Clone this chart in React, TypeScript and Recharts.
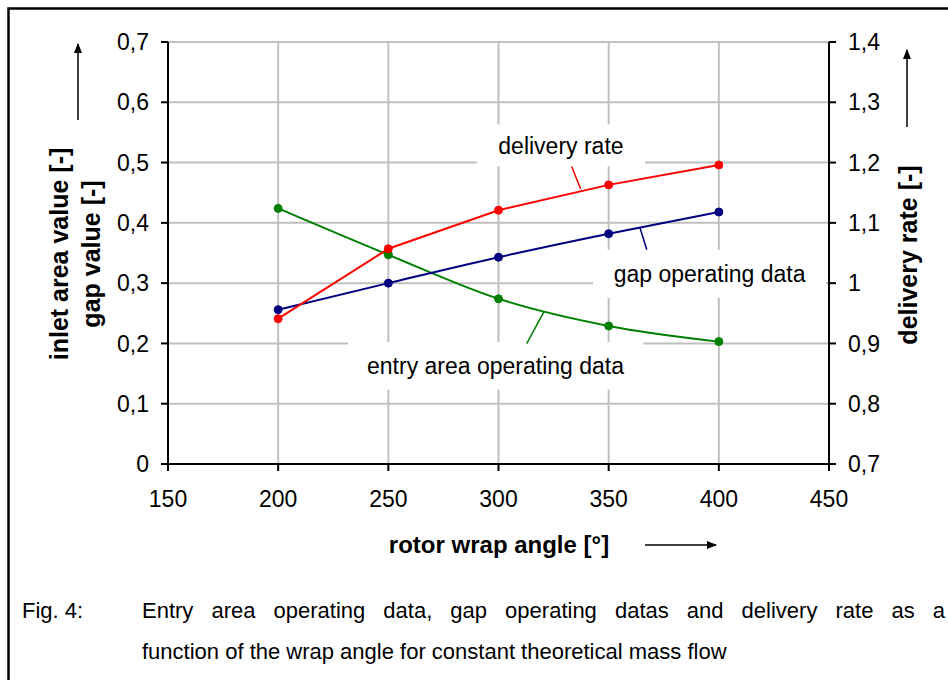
import {
  CartesianGrid,
  Line,
  LineChart,
  ReferenceArea,
  ReferenceLine,
  XAxis,
  YAxis,
} from "recharts";

// rotor wrap angle [°]
const angles = [200, 250, 300, 350, 400];
// left axis
const entryArea = [0.424, 0.347, 0.274, 0.229, 0.203];
const gapValue = [0.256, 0.3, 0.343, 0.382, 0.418];
// right axis
const deliveryRate = [0.941, 1.057, 1.121, 1.163, 1.196];

const xTicks = [150, 200, 250, 300, 350, 400, 450];
const leftTicks = [0, 0.1, 0.2, 0.3, 0.4, 0.5, 0.6, 0.7];
const rightTicks = [0.7, 0.8, 0.9, 1, 1.1, 1.2, 1.3, 1.4];

const data = angles.map((a, i) => ({
  angle: a,
  entry: entryArea[i],
  gap: gapValue[i],
  rate: deliveryRate[i],
}));

const FONT = "'Liberation Sans', Arial, sans-serif";
const fmt = (v: number) =>
  Number.isInteger(v) ? String(v) : v.toFixed(1).replace(".", ",");

const tickStyle = { fill: "#000", fontSize: 23, fontFamily: FONT };
const axisLine = { stroke: "#000", strokeWidth: 2 };

const labelStyle = (value: string) => ({
  value,
  position: "center" as const,
  fill: "#000",
  fontSize: 23,
  fontFamily: FONT,
});

export default function App() {
  return (
    <div
      style={{
        position: "absolute",
        left: 0,
        top: 0,
        width: 948,
        height: 680,
        background: "#fff",
        fontFamily: FONT,
        overflow: "hidden",
      }}
    >
      <div style={{ position: "absolute", left: 0, top: 0 }}>
        <LineChart
          width={948}
          height={560}
          data={data}
          margin={{ top: 42, right: 59, left: 108, bottom: 56 }}
        >
          <CartesianGrid yAxisId="left" stroke="#c0c0c0" strokeWidth={2} />
          <XAxis
            dataKey="angle"
            type="number"
            domain={[150, 450]}
            ticks={xTicks}
            height={40}
            tick={tickStyle}
            tickSize={7}
            tickMargin={20}
            axisLine={axisLine}
            tickLine={axisLine}
          />
          <YAxis
            yAxisId="left"
            domain={[0, 0.7]}
            ticks={leftTicks}
            width={60}
            tickFormatter={fmt}
            tick={tickStyle}
            tickSize={7}
            tickMargin={12}
            axisLine={axisLine}
            tickLine={axisLine}
          />
          <YAxis
            yAxisId="right"
            orientation="right"
            domain={[0.7, 1.4]}
            ticks={rightTicks}
            width={60}
            tickFormatter={fmt}
            tick={tickStyle}
            tickSize={7}
            tickMargin={12}
            axisLine={axisLine}
            tickLine={axisLine}
          />
          <ReferenceArea
            yAxisId="left"
            x1={290.2}
            x2={366.5}
            y1={0.494}
            y2={0.563}
            fill="#fff"
            fillOpacity={1}
            stroke="none"
            label={labelStyle("delivery rate")}
          />
          <ReferenceArea
            yAxisId="left"
            x1={342.9}
            x2={448.7}
            y1={0.2758}
            y2={0.3554}
            fill="#fff"
            fillOpacity={1}
            stroke="none"
            label={labelStyle("gap operating data")}
          />
          <ReferenceArea
            yAxisId="left"
            x1={231.7}
            x2={365.6}
            y1={0.1233}
            y2={0.2025}
            fill="#fff"
            fillOpacity={1}
            stroke="none"
            label={labelStyle("entry area operating data")}
          />
          <ReferenceLine
            yAxisId="left"
            segment={[
              { x: 333.2, y: 0.4936 },
              { x: 337.3, y: 0.4561 },
            ]}
            stroke="#ff0000"
            strokeWidth={1.5}
          />
          <ReferenceLine
            yAxisId="left"
            segment={[
              { x: 364.2, y: 0.3919 },
              { x: 367.3, y: 0.3555 },
            ]}
            stroke="#000080"
            strokeWidth={1.5}
          />
          <ReferenceLine
            yAxisId="left"
            segment={[
              { x: 320.7, y: 0.2531 },
              { x: 312.8, y: 0.1995 },
            ]}
            stroke="#008000"
            strokeWidth={1.5}
          />
          <Line
            yAxisId="left"
            type="monotone"
            dataKey="entry"
            stroke="#008000"
            strokeWidth={2}
            dot={{ r: 4, fill: "#008000", stroke: "#008000", strokeWidth: 1 }}
            isAnimationActive={false}
          />
          <Line
            yAxisId="left"
            type="monotone"
            dataKey="gap"
            stroke="#000080"
            strokeWidth={2}
            dot={{ r: 4, fill: "#000080", stroke: "#000080", strokeWidth: 1 }}
            isAnimationActive={false}
          />
          <Line
            yAxisId="right"
            type="linear"
            dataKey="rate"
            stroke="#ff0000"
            strokeWidth={2}
            dot={{ r: 4, fill: "#ff0000", stroke: "#ff0000", strokeWidth: 1 }}
            isAnimationActive={false}
          />
        </LineChart>
      </div>

      {/* frame, axis titles and arrows */}
      <svg
        width={948}
        height={680}
        style={{ position: "absolute", left: 0, top: 0, pointerEvents: "none" }}
      >
        <defs>
          <marker
            id="arr"
            viewBox="0 0 10 10"
            refX="9"
            refY="5"
            markerWidth="7"
            markerHeight="7"
            orient="auto"
          >
            <path d="M0,1 L10,5 L0,9 z" fill="#000" />
          </marker>
        </defs>
        <path d="M8.5,700 L8.5,8.5 L960,8.5" fill="none" stroke="#000" strokeWidth={2.5} />
        <g fontFamily={FONT} fontWeight="bold" fontSize={25} fill="#000">
          <text x={68} y={254} textAnchor="middle" transform="rotate(-90 68 254)">
            inlet area value [-]
          </text>
          <text x={100} y={254} textAnchor="middle" transform="rotate(-90 100 254)">
            gap value [-]
          </text>
          <text x={917} y={255} textAnchor="middle" transform="rotate(-90 917 255)">
            delivery rate [-]
          </text>
          <text x={499} y={553} textAnchor="middle" fontSize={24}>
            rotor wrap angle [°]
          </text>
        </g>
        <line x1={78} y1={120} x2={78} y2={44} stroke="#000" strokeWidth={1.5} markerEnd="url(#arr)" />
        <line x1={907} y1={127} x2={907} y2={50} stroke="#000" strokeWidth={1.5} markerEnd="url(#arr)" />
        <line x1={645} y1={545} x2={716} y2={545} stroke="#000" strokeWidth={1.5} markerEnd="url(#arr)" />
      </svg>

      {/* caption */}
      <div
        style={{
          position: "absolute",
          left: 22,
          top: 590,
          fontSize: 22,
          lineHeight: "41px",
          color: "#000",
          whiteSpace: "nowrap",
        }}
      >
        Fig. 4:
      </div>
      <div
        style={{
          position: "absolute",
          left: 142,
          top: 590,
          width: 803,
          fontSize: 22,
          lineHeight: "41px",
          color: "#000",
        }}
      >
        <div style={{ textAlign: "justify", textAlignLast: "justify" }}>
          Entry area operating data, gap operating datas and delivery rate as a
        </div>
        <div style={{ whiteSpace: "nowrap" }}>
          function of the wrap angle for constant theoretical mass flow
        </div>
      </div>
    </div>
  );
}
